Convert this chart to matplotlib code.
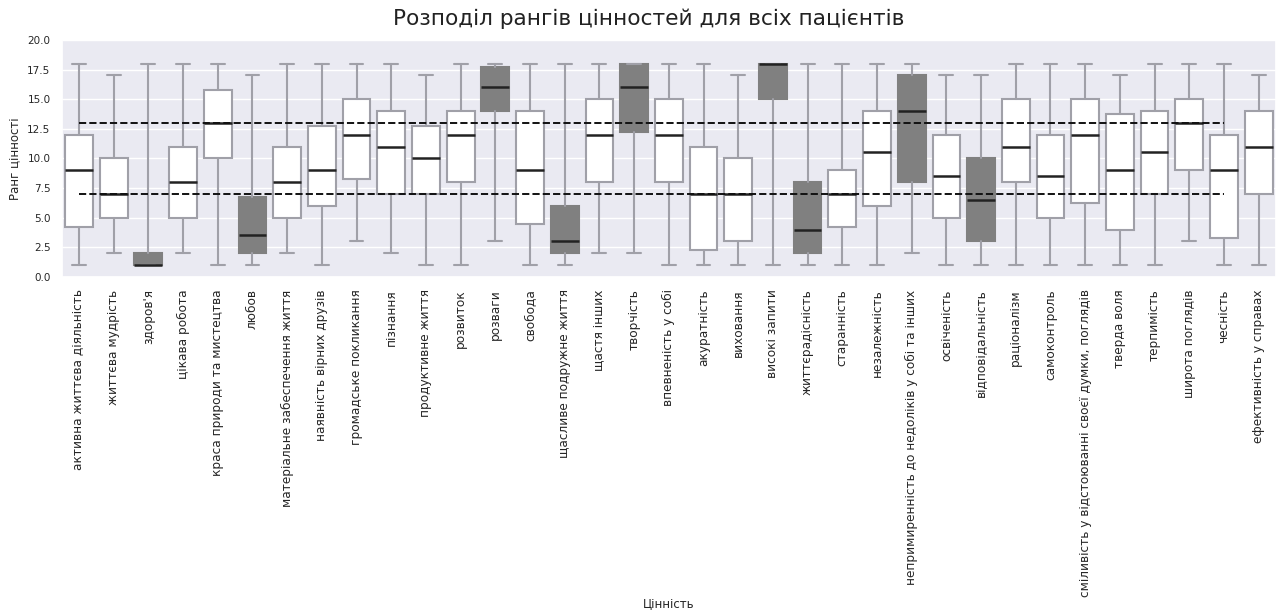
import matplotlib
matplotlib.use("Agg")
import matplotlib.pyplot as plt
import seaborn as sns

# Цінності (категорії)
values = [
    "активна життєва діяльність", "життєва мудрість", "здоров'я", "цікава робота",
    "краса природи та мистецтва", "любов", "матеріальне забеспечення життя",
    "наявність вірних друзів", "громадське покликання", "пізнання",
    "продуктивне життя", "розвиток", "розваги", "свобода",
    "щасливе подружне життя", "щастя інших", "творчість", "впевненість у собі",
    "акуратність", "виховання", "високі запити", "життєрадісність",
    "старанність", "незалежність", "непримиренність до недоліків у собі та інших",
    "освіченість", "відповідальність", "раціоналізм", "самоконтроль",
    "сміливість у відстоюванні своєї думки, поглядів", "тверда воля",
    "терпимість", "широта поглядів", "чесність", "ефективність у справах",
]

# Статистики боксплотів
whislo = [1, 2, 1, 2, 1, 1, 2, 1, 3, 2, 1, 1, 3, 1, 1, 2, 2, 1,
          1, 1, 1, 1, 1, 1, 2, 1, 1, 1, 1, 1, 1, 1, 3, 1, 1]
q1 = [4.25, 5, 1, 5, 10, 2, 5, 6, 8.25, 7, 7, 8, 14, 4.5, 2, 8, 12.25, 8,
      2.25, 3, 15, 2, 4.25, 6, 8, 5, 3, 8, 5, 6.25, 4, 7, 9, 3.25, 7]
med = [9, 7, 1, 8, 13, 3.5, 8, 9, 12, 11, 10, 12, 16, 9, 3, 12, 16, 12,
       7, 7, 18, 4, 7, 10.5, 14, 8.5, 6.5, 11, 8.5, 12, 9, 10.5, 13, 9, 11]
q3 = [12, 10, 2, 11, 15.75, 6.75, 11, 12.75, 15, 14, 12.75, 14, 17.75, 14, 6, 15, 18, 15,
      11, 10, 18, 8, 9, 14, 17, 12, 10, 15, 12, 15, 13.75, 14, 15, 12, 14]
whishi = [18, 17, 18, 18, 18, 17, 18, 18, 18, 18, 17, 18, 18, 18, 18, 18, 18, 18,
          18, 17, 18, 18, 18, 18, 18, 17, 17, 18, 18, 18, 17, 18, 18, 18, 17]

upper_line = 13
lower_line = 7

sns.set_theme(style="darkgrid")
plt.rcParams['font.family'] = ['DejaVu Sans']

fig = plt.figure(figsize=(12.76, 6.14), dpi=100)
ax = fig.add_axes([0.0483, 0.549, 0.9517, 0.386])

stats = []
for i in range(len(values)):
    stats.append({"whislo": whislo[i], "q1": q1[i], "med": med[i],
                  "q3": q3[i], "whishi": whishi[i], "fliers": []})

edge = "#a0a0a8"
bp = ax.bxp(stats, positions=range(len(values)), widths=0.8, patch_artist=True,
            showfliers=False,
            boxprops=dict(edgecolor=edge, linewidth=1.5),
            whiskerprops=dict(color=edge, linewidth=1.5),
            capprops=dict(color=edge, linewidth=1.5),
            medianprops=dict(color="#222222", linewidth=1.8))

# сірим виділено цінності з медіаною поза межами 7..13
for box, m in zip(bp["boxes"], med):
    if m > upper_line or m < lower_line:
        box.set_facecolor("#808080")
        box.set_edgecolor("#808080")
    else:
        box.set_facecolor("white")

ax.hlines([upper_line, lower_line], 0, len(values) - 2, colors="#111111",
          linestyles="--", linewidth=1.4, zorder=5)

ax.set_xlim(-0.5, len(values) - 0.5)
ax.set_ylim(0, 20)
ax.set_yticks([0, 2.5, 5, 7.5, 10, 12.5, 15, 17.5, 20])
ax.set_xticks(range(len(values)))
ax.set_xticklabels(values, rotation=90, fontsize=8.7)
ax.tick_params(axis="y", labelsize=7.5, pad=2)
ax.tick_params(axis="x", pad=3)
ax.xaxis.grid(False)

fig.text(0.508, 0.97, "Розподіл рангів цінностей для всіх пацієнтів",
         fontsize=15.6, ha="center", va="center", color="#222222")
ax.set_xlabel("Цінність", fontsize=8.5)
ax.set_ylabel("Ранг цінності", fontsize=8.5)
ax.xaxis.set_label_coords(0.5, -1.35)

fig.savefig("out.png", dpi=100)
